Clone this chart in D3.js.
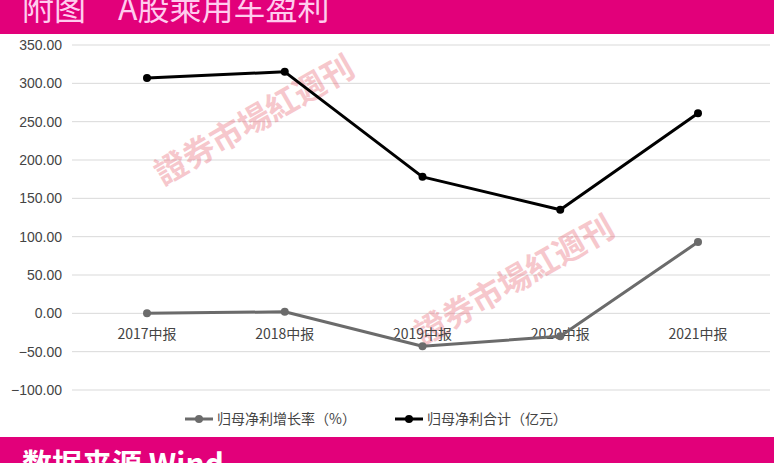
<!DOCTYPE html>
<html><head><meta charset="utf-8">
<script src="https://cdn.jsdelivr.net/npm/d3@7"></script>
<style>body{margin:0;background:#fff}svg{display:block}</style>
</head><body><svg id="c" width="774" height="463"></svg>
<script>
const categories=['2017中报','2018中报','2019中报','2020中报','2021中报'];
const profitTotal=[307,315,178,135,261];
const growthRate=[0,2,-43,-30,93];
const yTicks=[350,300,250,200,150,100,50,0,-50,-100];
const seriesNames=['归母净利增长率（%）','归母净利合计（亿元）'];

const svg=d3.select('#c'),W=774,H=463;
const magenta='#e2007a';
const font='"Noto Sans CJK SC",sans-serif';

// banners
svg.append('rect').attr('x',0).attr('y',0).attr('width',W).attr('height',34).attr('fill',magenta);
svg.append('text').attr('x',22).attr('y',20).attr('fill','#fce').attr('font-family',font)
  .attr('font-size',32).text('附图　A股乘用车盈利');
svg.append('rect').attr('x',0).attr('y',437).attr('width',W).attr('height',26).attr('fill',magenta);
svg.append('text').attr('x',22).attr('y',475).attr('fill','#fff').attr('font-family',font)
  .attr('font-size',30).attr('font-weight','bold').text('数据来源 Wind');

const y=d3.scaleLinear().domain([-100,350]).range([390,45]);
const x=d3.scalePoint().domain(categories).range([147,698]);

// grid
svg.append('g').selectAll('line').data(yTicks).join('line')
  .attr('x1',72).attr('x2',770).attr('y1',d=>y(d)).attr('y2',d=>y(d))
  .attr('stroke','#d9d9d9').attr('stroke-width',1);
svg.append('g').selectAll('text').data(yTicks).join('text')
  .attr('x',62).attr('y',d=>y(d)+5).attr('text-anchor','end')
  .attr('font-family','"Liberation Sans",sans-serif').attr('font-size',14).attr('fill','#444')
  .text(d=>d3.format('.2f')(d));

// watermarks
[[260,130,-30],[520,290,-30]].forEach(([wx,wy,r])=>{
  svg.append('text').attr('transform',`translate(${wx},${wy}) rotate(${r})`)
    .attr('text-anchor','middle').attr('font-family',font).attr('font-size',32).attr('font-weight','bold')
    .attr('fill','#e8606e').attr('opacity',0.35).text('證券市場紅週刊');
});

// category labels
svg.append('g').selectAll('text').data(categories).join('text')
  .attr('x',d=>x(d)).attr('y',339).attr('text-anchor','middle')
  .attr('font-family',font).attr('font-size',14).attr('fill','#444').text(d=>d);

const line=d3.line().x((d,i)=>x(categories[i])).y(d=>y(d));
function drawSeries(vals,color){
  svg.append('path').datum(vals).attr('d',line).attr('fill','none')
    .attr('stroke',color).attr('stroke-width',3).attr('stroke-linejoin','round');
  svg.append('g').selectAll('circle').data(vals).join('circle')
    .attr('cx',(d,i)=>x(categories[i])).attr('cy',d=>y(d)).attr('r',4).attr('fill',color);
}
drawSeries(growthRate,'#6b6b6b');
drawSeries(profitTotal,'#000');

// legend
const lg=[[185,'#6b6b6b',seriesNames[0]],[395,'#000',seriesNames[1]]];
lg.forEach(([lx,c,t])=>{
  svg.append('line').attr('x1',lx).attr('x2',lx+28).attr('y1',419).attr('y2',419).attr('stroke',c).attr('stroke-width',3);
  svg.append('circle').attr('cx',lx+14).attr('cy',419).attr('r',4).attr('fill',c);
  svg.append('text').attr('x',lx+32).attr('y',424).attr('font-family',font).attr('font-size',14).attr('fill','#444').text(t);
});
</script></body></html>
